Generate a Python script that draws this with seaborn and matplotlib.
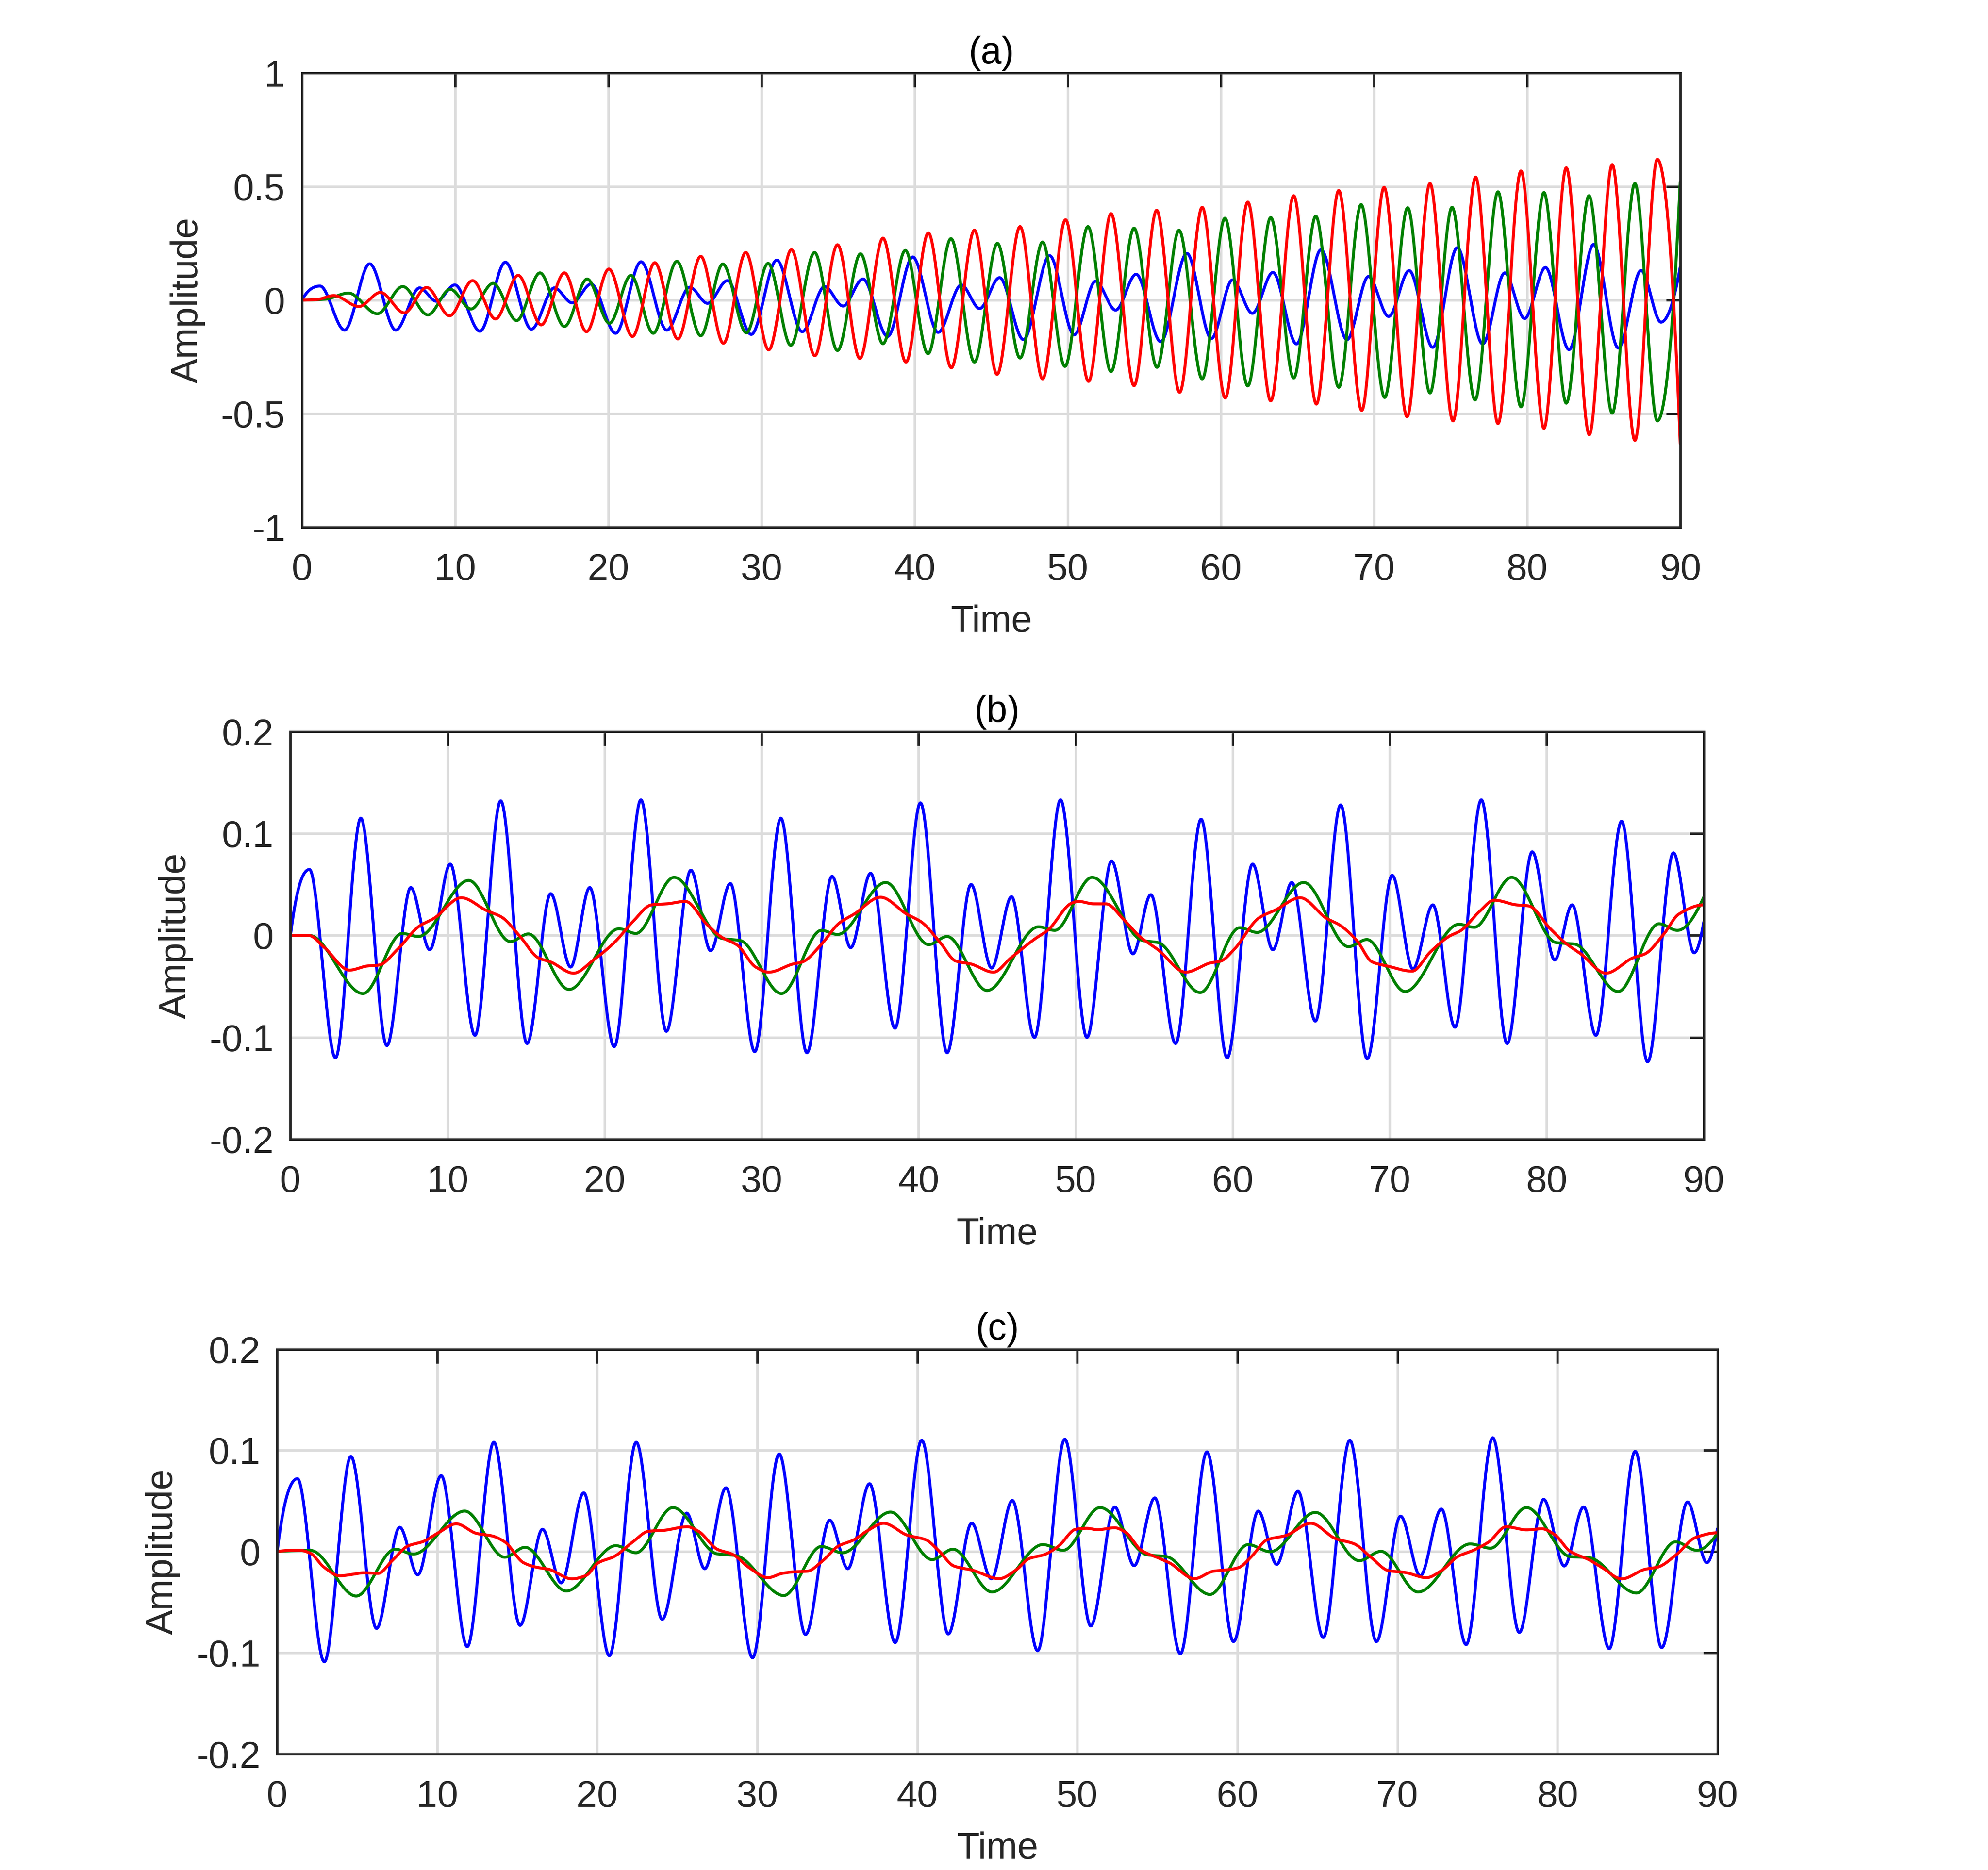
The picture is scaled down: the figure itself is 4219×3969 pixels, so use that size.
import numpy as np
import matplotlib
matplotlib.use("Agg")
import matplotlib.pyplot as plt
import seaborn as sns

# values: turning points / shape points of each trace
# panel (a)
a_blue_t = [0, 1.18, 2.78, 4.42, 6.12, 7.68, 8.78, 9.98, 11.62, 13.28, 14.98, 16.48, 17.64, 18.88, 20.48,
            22.14, 23.82, 25.32, 26.48, 27.78, 29.34, 31.0, 32.67, 34.13, 35.33, 36.63, 38.24, 39.88, 41.54,
            43.05, 44.25, 45.55, 47.11, 48.82, 50.42, 51.82, 53.13, 54.47, 56.07, 57.78, 59.38, 60.76, 62.06,
            63.4, 64.94, 66.54, 68.24, 69.64, 70.96, 72.3, 73.84, 75.44, 77.1, 78.54, 79.84, 81.2, 82.74,
            84.34, 85.96, 87.44, 88.74, 90]
a_blue_y = [0, 0.062, -0.132, 0.160, -0.132, 0.054, -0.005, 0.067, -0.137, 0.167, -0.128, 0.054, -0.012,
            0.071, -0.146, 0.169, -0.132, 0.057, -0.014, 0.086, -0.151, 0.176, -0.139, 0.060, -0.026, 0.093,
            -0.160, 0.190, -0.142, 0.067, -0.037, 0.099, -0.174, 0.196, -0.153, 0.083, -0.044, 0.114, -0.183,
            0.206, -0.169, 0.089, -0.058, 0.122, -0.193, 0.222, -0.174, 0.104, -0.072, 0.130, -0.208, 0.231,
            -0.193, 0.120, -0.081, 0.144, -0.218, 0.245, -0.211, 0.131, -0.097, 0.146]
a_green_t = [0, 1.5, 3.04, 4.92, 6.58, 8.22, 9.68, 11.04, 12.48, 14.02, 15.54, 17.14, 18.62, 20.08, 21.48,
             22.94, 24.48, 26.04, 27.48, 29.02, 30.44, 31.92, 33.47, 34.97, 36.47, 37.94, 39.40, 40.88, 42.38,
             43.91, 45.41, 46.89, 48.36, 49.82, 51.32, 52.83, 54.33, 55.83, 57.27, 58.78, 60.27, 61.76, 63.26,
             64.76, 66.2, 67.7, 69.16, 70.7, 72.2, 73.66, 75.1, 76.6, 78.1, 79.6, 81.1, 82.56, 84.04, 85.56,
             87.04, 88.5, 90]
a_green_y = [0, 0.004, 0.031, -0.060, 0.060, -0.065, 0.048, -0.039, 0.074, -0.090, 0.120, -0.116, 0.093,
             -0.102, 0.109, -0.146, 0.171, -0.157, 0.159, -0.144, 0.162, -0.199, 0.210, -0.222, 0.204, -0.192,
             0.219, -0.236, 0.271, -0.273, 0.250, -0.255, 0.256, -0.292, 0.324, -0.315, 0.317, -0.296, 0.308,
             -0.347, 0.361, -0.378, 0.364, -0.343, 0.370, -0.384, 0.421, -0.429, 0.407, -0.409, 0.409, -0.440,
             0.477, -0.470, 0.474, -0.454, 0.460, -0.498, 0.514, -0.532, 0.523]
a_red_t = [0, 1.0, 2.08, 3.72, 5.12, 6.68, 8.14, 9.64, 11.14, 12.64, 14.12, 15.62, 17.14, 18.58, 20.04, 21.58,
           23.04, 24.54, 26.04, 27.52, 28.98, 30.48, 31.96, 33.49, 34.97, 36.43, 37.94, 39.44, 40.90, 42.40,
           43.91, 45.39, 46.89, 48.36, 49.86, 51.36, 52.83, 54.33, 55.81, 57.31, 58.78, 60.29, 61.76, 63.26,
           64.76, 66.24, 67.7, 69.2, 70.66, 72.16, 73.66, 75.16, 76.64, 78.1, 79.6, 81.1, 82.56, 84.06, 85.56,
           87.04, 88.5, 90]
a_red_y = [0, 0.003, 0.020, -0.028, 0.034, -0.056, 0.056, -0.069, 0.086, -0.083, 0.109, -0.109, 0.120, -0.139,
           0.137, -0.160, 0.165, -0.171, 0.193, -0.190, 0.210, -0.219, 0.222, -0.245, 0.244, -0.257, 0.273,
           -0.273, 0.296, -0.298, 0.308, -0.327, 0.324, -0.347, 0.354, -0.358, 0.381, -0.377, 0.396, -0.406,
           0.409, -0.431, 0.432, -0.444, 0.460, -0.458, 0.483, -0.486, 0.497, -0.514, 0.514, -0.532, 0.542,
           -0.544, 0.569, -0.565, 0.583, -0.593, 0.597, -0.618, 0.620, -0.634]

# panel (b)
b_blue_t = [0, 1.21, 2.87, 4.48, 6.14, 7.66, 8.87, 10.18, 11.75, 13.39, 15.07, 16.57, 17.84, 19.06, 20.62,
            22.32, 23.94, 25.5, 26.76, 28.01, 29.57, 31.23, 32.89, 34.49, 35.68, 36.95, 38.5, 40.12, 41.82,
            43.34, 44.65, 45.92, 47.38, 49.04, 50.72, 52.29, 53.65, 54.79, 56.37, 57.99, 59.65, 61.27, 62.56,
            63.77, 65.27, 66.88, 68.57, 70.16, 71.48, 72.75, 74.16, 75.84, 77.48, 79.08, 80.51, 81.62, 83.14,
            84.77, 86.43, 88.07, 89.39, 90]
b_blue_y = [0, 0.0647, -0.120, 0.115, -0.108, 0.047, -0.014, 0.070, -0.098, 0.132, -0.106, 0.041, -0.031,
            0.047, -0.109, 0.133, -0.094, 0.064, -0.015, 0.051, -0.114, 0.115, -0.115, 0.058, -0.012, 0.061,
            -0.091, 0.130, -0.115, 0.050, -0.032, 0.038, -0.100, 0.133, -0.100, 0.073, -0.018, 0.040, -0.106,
            0.114, -0.120, 0.070, -0.014, 0.052, -0.084, 0.128, -0.121, 0.059, -0.033, 0.030, -0.090, 0.133,
            -0.106, 0.082, -0.024, 0.030, -0.098, 0.112, -0.124, 0.081, -0.017, 0.013]
b_green_t = [0, 1.2, 4.62, 7.11, 8.15, 11.35, 14.0, 15.15, 17.74, 20.92, 22.0, 24.43, 27.5, 28.65, 31.27,
             33.81, 34.84, 37.91, 40.64, 41.82, 44.36, 47.64, 48.67, 51.05, 54.28, 55.25, 57.93, 60.45, 61.56,
             64.53, 67.38, 68.55, 70.98, 74.41, 75.39, 77.77, 80.6, 81.78, 84.55, 87.15, 88.32, 90]
b_green_y = [0, 0.0, -0.057, 0.002, -0.001, 0.054, -0.006, 0.0015, -0.053, 0.0066, 0.002, 0.057, -0.003,
             -0.005, -0.057, 0.005, 0.001, 0.052, -0.009, -0.001, -0.054, 0.0085, 0.005, 0.057, -0.005, -0.007,
             -0.056, 0.0076, 0.003, 0.052, -0.011, -0.004, -0.055, 0.011, 0.008, 0.057, -0.007, -0.0085, -0.055,
             0.0115, 0.005, 0.0375]
b_red_t = [0, 1.17, 2.14, 3.76, 4.87, 5.65, 6.82, 8.19, 9.16, 10.88, 12.48, 13.45, 14.62, 15.79, 16.57, 18.03,
           19.3, 20.66, 21.83, 23.0, 23.98, 25.15, 26.51, 27.49, 28.46, 29.63, 30.45, 32.0, 32.6, 33.77, 34.94,
           35.9, 37.58, 39.24, 40.2, 41.4, 42.36, 43.34, 44.77, 45.88, 47.44, 48.22, 49.79, 50.18, 51.15, 51.93,
           53.1, 54.08, 55.25, 57.01, 58.57, 59.26, 60.1, 61.66, 62.73, 64.3, 65.96, 66.84, 67.91, 68.89, 69.86,
           71.43, 72.6, 73.77, 74.55, 75.72, 76.66, 78.07, 78.85, 80.21, 81.19, 82.17, 83.77, 85.49, 86.27,
           87.44, 88.42, 90]
b_red_y = [0, 0.0, -0.0115, -0.034, -0.030, -0.029, -0.0136, 0.009, 0.017, 0.037, 0.0245, 0.018, -0.001,
           -0.022, -0.026, -0.037, -0.024, -0.0064, 0.014, 0.030, 0.031, 0.0334, 0.011, -0.002, -0.0095, -0.031,
           -0.036, -0.028, -0.026, -0.0095, 0.012, 0.021, 0.0375, 0.021, 0.013, -0.0074, -0.025, -0.028, -0.036,
           -0.022, -0.003, 0.005, 0.032, 0.0334, 0.031, 0.031, 0.015, -0.001, -0.014, -0.036, -0.027, -0.025,
           -0.0136, 0.017, 0.025, 0.037, 0.017, 0.010, -0.005, -0.026, -0.030, -0.035, -0.016, -0.001, 0.005,
           0.0235, 0.0346, 0.030, 0.029, 0.007, -0.0074, -0.018, -0.037, -0.022, -0.018, 0.001, 0.021, 0.030]

# panel (c)
c_blue_t = [0, 1.27, 2.95, 4.61, 6.21, 7.66, 8.79, 10.25, 11.88, 13.54, 15.18, 16.58, 17.75, 19.16, 20.76,
            22.44, 24.06, 25.59, 26.72, 28.05, 29.71, 31.37, 33.02, 34.53, 35.66, 37.02, 38.62, 40.28, 41.94,
            43.4, 44.63, 45.94, 47.52, 49.22, 50.84, 52.34, 53.55, 54.84, 56.44, 58.1, 59.76, 61.31, 62.46,
            63.79, 65.37, 67.03, 68.69, 70.2, 71.43, 72.75, 74.3, 75.96, 77.62, 79.14, 80.43, 81.64, 83.24,
            84.86, 86.52, 88.13, 89.34, 90]
c_blue_y = [0, 0.072, -0.109, 0.094, -0.076, 0.024, -0.023, 0.075, -0.094, 0.108, -0.073, 0.022, -0.031, 0.058,
            -0.103, 0.108, -0.067, 0.038, -0.017, 0.063, -0.105, 0.0965, -0.082, 0.031, -0.017, 0.067, -0.090,
            0.110, -0.0815, 0.028, -0.027, 0.0505, -0.098, 0.111, -0.0736, 0.044, -0.014, 0.053, -0.101, 0.0985,
            -0.089, 0.040, -0.0127, 0.0595, -0.085, 0.110, -0.089, 0.035, -0.024, 0.042, -0.092, 0.1125, -0.080,
            0.0516, -0.0143, 0.044, -0.096, 0.099, -0.095, 0.049, -0.011, 0.0225]
c_green_t = [0, 2.1, 4.94, 7.38, 8.52, 11.72, 14.22, 15.49, 18.07, 21.17, 22.42, 24.73, 27.5, 28.67, 31.66,
             34.0, 35.33, 38.33, 40.93, 42.23, 44.67, 47.85, 49.12, 51.42, 54.39, 55.56, 58.29, 60.68, 62.05,
             64.88, 67.62, 68.98, 71.29, 74.55, 75.82, 78.07, 80.8, 81.97, 84.94, 87.38, 88.71, 90]
c_green_y = [0, 0.001, -0.044, 0.0023, -0.0025, 0.040, -0.0056, 0.0042, -0.039, 0.0058, -0.0012, 0.0435,
             -0.0023, -0.004, -0.0435, 0.005, -0.0012, 0.039, -0.008, 0.0023, -0.040, 0.0069, 0.0012, 0.0435,
             -0.0033, -0.005, -0.0424, 0.0069, -0.0002, 0.0387, -0.009, 0.0002, -0.040, 0.0075, 0.0033, 0.0435,
             -0.005, -0.006, -0.041, 0.0096, 0.0012, 0.0179]
c_red_t = [0, 1.43, 2.11, 2.89, 3.91, 4.65, 5.43, 6.31, 7.19, 8.16, 9.14, 10.12, 11.19, 12.46, 13.44, 14.22,
           15.39, 16.17, 16.95, 18.42, 19.3, 20.08, 21.05, 22.23, 23.2, 24.18, 25.64, 26.33, 27.5, 28.48, 29.45,
           30.68, 31.56, 32.34, 33.12, 34.1, 35.07, 36.05, 36.83, 37.9, 39.37, 40.54, 41.32, 42.29, 43.46, 45.12,
           46.2, 46.98, 47.95, 48.83, 49.9, 50.59, 51.27, 52.34, 53.02, 54.0, 55.17, 55.76, 57.32, 58.49, 59.46,
           60.1, 60.88, 61.86, 63.03, 64.59, 66.15, 67.32, 68.3, 69.47, 70.45, 71.82, 72.79, 73.77, 74.75, 75.72,
           76.8, 78.07, 79.04, 79.82, 80.8, 81.97, 82.75, 84.02, 85.49, 86.27, 87.44, 88.61, 90]
c_red_y = [0, 0.0012, -0.002, -0.015, -0.024, -0.0227, -0.021, -0.0216, -0.009, 0.0054, 0.010, 0.019, 0.0274,
           0.0179, 0.0154, 0.0096, -0.011, -0.0154, -0.0175, -0.027, -0.0237, -0.011, -0.005, 0.0096, 0.020,
           0.021, 0.0245, 0.020, 0.0023, -0.0029, -0.0154, -0.0258, -0.0216, -0.020, -0.0195, -0.009, 0.0054,
           0.0116, 0.020, 0.0279, 0.0162, 0.0116, 0.0012, -0.0143, -0.0185, -0.0268, -0.0179, -0.007, -0.003,
           0.0054, 0.022, 0.023, 0.0216, 0.0235, 0.019, 0.0012, -0.007, -0.0112, -0.0268, -0.0195, -0.0179,
           -0.0158, -0.005, 0.0116, 0.0158, 0.0279, 0.0127, 0.0075, -0.005, -0.019, -0.0206, -0.0258, -0.0185,
           -0.005, 0.0012, 0.0096, 0.0245, 0.0214, 0.0225, 0.0168, 0.0002, -0.0081, -0.0154, -0.027, -0.0175,
           -0.0154, -0.003, 0.0137, 0.0185]

panel_titles = ["(a)", "(b)", "(c)"]
x_ticks = [0, 10, 20, 30, 40, 50, 60, 70, 80, 90]
a_yticks = [-1, -0.5, 0, 0.5, 1]
a_yticklabels = ["-1", "-0.5", "0", "0.5", "1"]
bc_yticks = [-0.2, -0.1, 0, 0.1, 0.2]
bc_yticklabels = ["-0.2", "-0.1", "0", "0.1", "0.2"]
trace_colors = ["#0000FF", "#008000", "#FF0000"]


def end_slope(h0, h1, d0, d1):
    s = ((2 * h0 + h1) * d0 - h0 * d1) / (h0 + h1)
    if np.sign(s) != np.sign(d0):
        return 0.0
    if np.sign(d0) != np.sign(d1) and abs(s) > abs(3 * d0):
        return 3 * d0
    return s


def smooth_trace(tk, yk, num=3000):
    # shape-preserving cubic through the read points, only for drawing a smooth line
    tk = np.asarray(tk, float)
    yk = np.asarray(yk, float)
    h = np.diff(tk)
    dl = np.diff(yk) / h
    d = np.zeros_like(yk)
    for k in range(1, len(tk) - 1):
        if dl[k - 1] * dl[k] > 0:
            w1 = 2 * h[k] + h[k - 1]
            w2 = h[k] + 2 * h[k - 1]
            d[k] = (w1 + w2) / (w1 / dl[k - 1] + w2 / dl[k])
    d[0] = end_slope(h[0], h[1], dl[0], dl[1])
    d[-1] = end_slope(h[-1], h[-2], dl[-1], dl[-2])
    ts = np.linspace(tk[0], tk[-1], num)
    i = np.clip(np.searchsorted(tk, ts, side="right") - 1, 0, len(h) - 1)
    s = (ts - tk[i]) / h[i]
    ys = ((2 * s**3 - 3 * s**2 + 1) * yk[i] + (s**3 - 2 * s**2 + s) * h[i] * d[i]
          + (-2 * s**3 + 3 * s**2) * yk[i + 1] + (s**3 - s**2) * h[i] * d[i + 1])
    return ts, ys


sns.set_theme(style="white")
plt.rcParams["font.family"] = ["Liberation Sans", "DejaVu Sans"]
plt.rcParams["axes.unicode_minus"] = False

fig = plt.figure(figsize=(4219 / 300, 3969 / 300), dpi=300)
positions = [
    [0.1519, 0.7181, 0.6933, 0.2428],
    [0.1461, 0.3907, 0.7109, 0.2181],
    [0.1394, 0.0621, 0.7245, 0.2164],
]
panels = [
    [(a_blue_t, a_blue_y), (a_green_t, a_green_y), (a_red_t, a_red_y)],
    [(b_blue_t, b_blue_y), (b_green_t, b_green_y), (b_red_t, b_red_y)],
    [(c_blue_t, c_blue_y), (c_green_t, c_green_y), (c_red_t, c_red_y)],
]
ylims = [(-1, 1), (-0.2, 0.2), (-0.2, 0.2)]
ytick_sets = [(a_yticks, a_yticklabels), (bc_yticks, bc_yticklabels), (bc_yticks, bc_yticklabels)]

fs = 19
for pos, traces, ylim, (yt, ytl), title in zip(positions, panels, ylims, ytick_sets, panel_titles):
    ax = fig.add_axes(pos)
    for (tk, yk), col in zip(traces, trace_colors):
        ts, ys = smooth_trace(tk, yk)
        sns.lineplot(x=ts, y=ys, ax=ax, color=col, linewidth=1.5, estimator=None, sort=False)
    ax.set_xlim(0, 90)
    ax.set_ylim(*ylim)
    ax.set_xticks(x_ticks)
    ax.set_xticklabels([str(v) for v in x_ticks])
    ax.set_yticks(yt)
    ax.set_yticklabels(ytl)
    ax.grid(True, color="#dcdcdc", linewidth=1.3)
    ax.set_axisbelow(True)
    for sp in ax.spines.values():
        sp.set_visible(True)
        sp.set_color("#262626")
        sp.set_linewidth(1.2)
    ax.tick_params(axis="both", direction="in", length=7.3, width=1.2, top=True, right=True,
                   color="#262626", labelcolor="#262626", labelsize=fs)
    ax.tick_params(axis="x", pad=13)
    ax.tick_params(axis="y", pad=8.5)
    ax.set_xlabel("Time", fontsize=fs, color="#262626", labelpad=8.5)
    ax.set_ylabel("Amplitude", fontsize=fs, color="#262626", labelpad=8)
    ax.set_title(title, fontsize=fs, color="black", pad=5)

fig.savefig("out.png", dpi=300)
